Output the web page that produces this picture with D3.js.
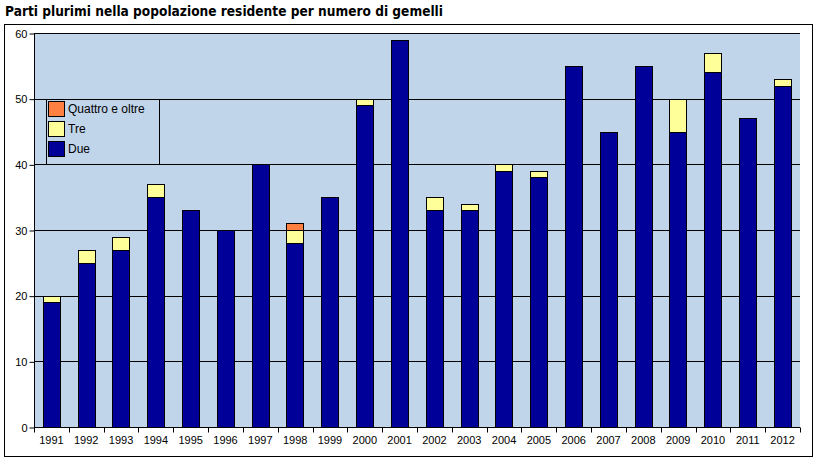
<!DOCTYPE html>
<html><head><meta charset="utf-8">
<script src="https://cdn.jsdelivr.net/npm/d3@7"></script>
<style>body{margin:0;background:#fff}svg{display:block}</style>
</head><body>
<script>
const years = ["1991","1992","1993","1994","1995","1996","1997","1998","1999","2000","2001","2002","2003","2004","2005","2006","2007","2008","2009","2010","2011","2012"];
const due =     [19,25,27,35,33,30,40,28,35,49,59,33,33,39,38,55,45,55,45,54,47,52];
const tre =     [1,2,2,2,0,0,0,2,0,1,0,2,1,1,1,0,0,0,5,3,0,1];
const quattro = [0,0,0,0,0,0,0,1,0,0,0,0,0,0,0,0,0,0,0,0,0,0];
const yTicks = [0,10,20,30,40,50,60];
const seriesNames = ["Due","Tre","Quattro e oltre"];
const colors = {"Due":"#000099","Tre":"#FFFF99","Quattro e oltre":"#FF8040"};
const title = "Parti plurimi nella popolazione residente per numero di gemelli";

const W=824,H=461;
const svg=d3.select("body").append("svg").attr("width",W).attr("height",H);
const L=34,R=800,T=33,B=427;
svg.append("rect").attr("x",4.5).attr("y",24.5).attr("width",808).attr("height",432).attr("fill","#fff").attr("stroke","#000");
svg.append("text").attr("x",5).attr("y",16).text(title)
  .attr("textLength",438).attr("lengthAdjust","spacingAndGlyphs")
  .attr("font-family","'DejaVu Sans',Verdana,sans-serif").attr("font-weight","bold").attr("font-size",13.5).attr("fill","#000");

const x=d3.scaleBand().domain(years).range([L,R]).paddingInner(0.5).paddingOuter(0.25);
const y=d3.scaleLinear().domain([0,60]).range([B,T]);

svg.append("rect").attr("x",L).attr("y",T).attr("width",R-L).attr("height",B-T).attr("fill","#C0D4EA");
// grid
svg.append("g").selectAll("line").data(yTicks.slice(1)).join("line")
  .attr("x1",L).attr("x2",R).attr("y1",d=>Math.round(y(d))+0.5).attr("y2",d=>Math.round(y(d))+0.5)
  .attr("stroke","#000");

const data=years.map((yr,i)=>({year:yr,"Due":due[i],"Tre":tre[i],"Quattro e oltre":quattro[i]}));
const stack=d3.stack().keys(seriesNames)(data);
svg.append("g").selectAll("g").data(stack).join("g").attr("fill",s=>colors[s.key])
  .selectAll("rect").data(s=>s.filter(d=>d[1]-d[0]>0)).join("rect")
  .attr("x",d=>Math.round(x(d.data.year))+0.5).attr("width",Math.round(x.bandwidth()))
  .attr("y",d=>Math.round(y(d[1]))+0.5).attr("height",d=>Math.round(y(d[0]))-Math.round(y(d[1])))
  .attr("stroke","#000").attr("stroke-width",1);

// axes
const ya=d3.axisLeft(y).tickValues(yTicks).tickSize(5).tickPadding(2);
const yg=svg.append("g").attr("transform",`translate(${L+0.5},0.5)`).call(ya);
yg.select(".domain").attr("d",`M0,${T}V${B}`);
const xa=d3.axisBottom(x).tickSize(0).tickPadding(9);
const xg=svg.append("g").attr("transform",`translate(0,${B+0.5})`).call(xa);
xg.select(".domain").attr("d",`M${L},0H${R}`);
xg.selectAll(".sep").data(d3.range(years.length+1)).join("line").attr("class","sep")
  .attr("x1",i=>Math.round(L+i*(R-L)/years.length)+0.5).attr("x2",i=>Math.round(L+i*(R-L)/years.length)+0.5)
  .attr("y1",0).attr("y2",5).attr("stroke","#000");
svg.selectAll(".tick text").attr("font-family","'Liberation Sans',Arial,sans-serif").attr("font-size",11).attr("fill","#000");

// legend
const lg=svg.append("g");
lg.append("rect").attr("x",46.5).attr("y",99.5).attr("width",113).attr("height",65).attr("fill","#C0D4EA").attr("stroke","#000");
const items=["Quattro e oltre","Tre","Due"];
items.forEach((k,i)=>{
  const yy=101+i*20;
  lg.append("rect").attr("x",48.5).attr("y",yy+0.5).attr("width",16).attr("height",15).attr("fill",colors[k]).attr("stroke","#000");
  lg.append("text").attr("x",68).attr("y",yy+12).text(k)
    .attr("font-family","'Liberation Sans',Arial,sans-serif").attr("font-size",12).attr("fill","#000");
});
</script>
</body></html>
